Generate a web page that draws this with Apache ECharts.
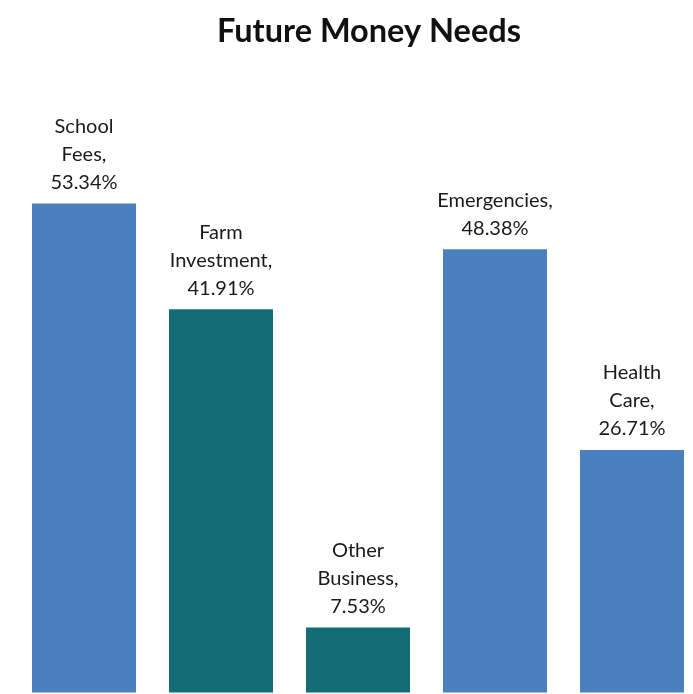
<!DOCTYPE html>
<html>
<head>
<meta charset="utf-8">
<script src="https://cdn.jsdelivr.net/npm/echarts@6/dist/echarts.min.js"></script>
<style>
html, body { margin: 0; padding: 0; background: #fff; }
#chart { width: 693px; height: 694px; }
</style>
</head>
<body>
<div id="chart"></div>
<script>
var categories = ['School Fees', 'Farm Investment', 'Other Business', 'Emergencies', 'Health Care'];
var shares = [53.34, 41.91, 7.53, 48.38, 26.71];
var barColors = ['#4a7fc0', '#126d77', '#126d77', '#4a7fc0', '#4a7fc0'];

var chart = echarts.init(document.getElementById('chart'));

var data = [];
for (var i = 0; i < shares.length; i++) {
	data.push({ value: shares[i], itemStyle: { color: barColors[i] } });
}

var option = {
	backgroundColor: '#fff',
	animation: false,
	title: {
		text: 'Future Money Needs',
		left: 212,
		top: 10,
		textStyle: { fontFamily: 'Lato', fontWeight: 'bold', fontSize: 32.5, color: '#111' }
	},
	// 类目中心放在网格两端，柱子可以超出网格
	grid: { left: 84, right: 61, top: 141.8, bottom: 1.5 },
	xAxis: {
		type: 'category',
		data: categories,
		boundaryGap: false,
		show: false
	},
	yAxis: {
		type: 'value',
		min: 0.5,
		max: 60,
		show: false
	},
	series: [{
		type: 'bar',
		barWidth: 104,
		data: data,
		label: {
			show: true,
			position: 'top',
			distance: 7,
			fontFamily: 'Lato',
			fontSize: 20,
			lineHeight: 28,
			color: '#1a1a1a',
			formatter: function (p) {
				// 名称按空格拆行，最后一行是百分比
				return p.name.split(' ').join('\n') + ',\n' + p.value.toFixed(2) + '%';
			}
		}
	}]
};
chart.setOption(option);
</script>
</body>
</html>
